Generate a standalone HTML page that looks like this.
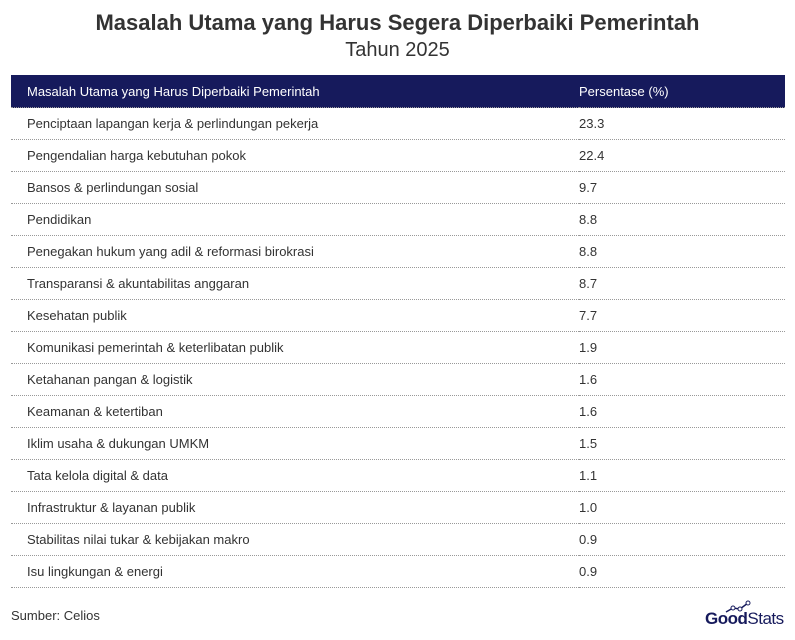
<!DOCTYPE html>
<html><head><style>
body{margin:0;width:795px;height:640px;background:#fff;font-family:"Liberation Sans",sans-serif;position:relative;overflow:hidden}
.t{position:absolute;left:0;width:795px;text-align:center;color:#333}
table{position:absolute;left:11px;top:75px;width:774px;border-collapse:collapse;font-size:13px;color:#333}
th{background:#161a5c;color:#fff;font-weight:normal;text-align:left;height:32px;padding:0 0 0 16px;border-bottom:1px dotted #999}
td{height:31px;padding:0 0 0 16px;border-bottom:1px dotted #999}
.v{width:206px;padding-left:0}
</style></head><body>
<div class="t" style="top:10px;font-size:22px;font-weight:bold">Masalah Utama yang Harus Segera Diperbaiki Pemerintah</div>
<div class="t" style="top:39px;font-size:20px">Tahun 2025</div>
<table>
<tr><th>Masalah Utama yang Harus Diperbaiki Pemerintah</th><th class="v" style="padding-left:0">Persentase (%)</th></tr>
<tr><td>Penciptaan lapangan kerja &amp; perlindungan pekerja</td><td class="v">23.3</td></tr>
<tr><td>Pengendalian harga kebutuhan pokok</td><td class="v">22.4</td></tr>
<tr><td>Bansos &amp; perlindungan sosial</td><td class="v">9.7</td></tr>
<tr><td>Pendidikan</td><td class="v">8.8</td></tr>
<tr><td>Penegakan hukum yang adil &amp; reformasi birokrasi</td><td class="v">8.8</td></tr>
<tr><td>Transparansi &amp; akuntabilitas anggaran</td><td class="v">8.7</td></tr>
<tr><td>Kesehatan publik</td><td class="v">7.7</td></tr>
<tr><td>Komunikasi pemerintah &amp; keterlibatan publik</td><td class="v">1.9</td></tr>
<tr><td>Ketahanan pangan &amp; logistik</td><td class="v">1.6</td></tr>
<tr><td>Keamanan &amp; ketertiban</td><td class="v">1.6</td></tr>
<tr><td>Iklim usaha &amp; dukungan UMKM</td><td class="v">1.5</td></tr>
<tr><td>Tata kelola digital &amp; data</td><td class="v">1.1</td></tr>
<tr><td>Infrastruktur &amp; layanan publik</td><td class="v">1.0</td></tr>
<tr><td>Stabilitas nilai tukar &amp; kebijakan makro</td><td class="v">0.9</td></tr>
<tr><td>Isu lingkungan &amp; energi</td><td class="v">0.9</td></tr>
</table>
<div style="position:absolute;left:11px;top:608px;font-size:13px;color:#333">Sumber: Celios</div>
<div style="position:absolute;left:705px;top:609px;font-size:17px;color:#161a5c;letter-spacing:-0.5px"><b>Good</b>Stats</div>
<svg style="position:absolute;left:724px;top:600px" width="28" height="14"><polyline points="2,12 9,8 16,9 24,3" fill="none" stroke="#161a5c" stroke-width="1.5"/><circle cx="9" cy="8" r="2" fill="#fff" stroke="#161a5c"/><circle cx="16" cy="9" r="2" fill="#fff" stroke="#161a5c"/><circle cx="24" cy="3" r="2" fill="#fff" stroke="#161a5c"/></svg>
</body></html>
